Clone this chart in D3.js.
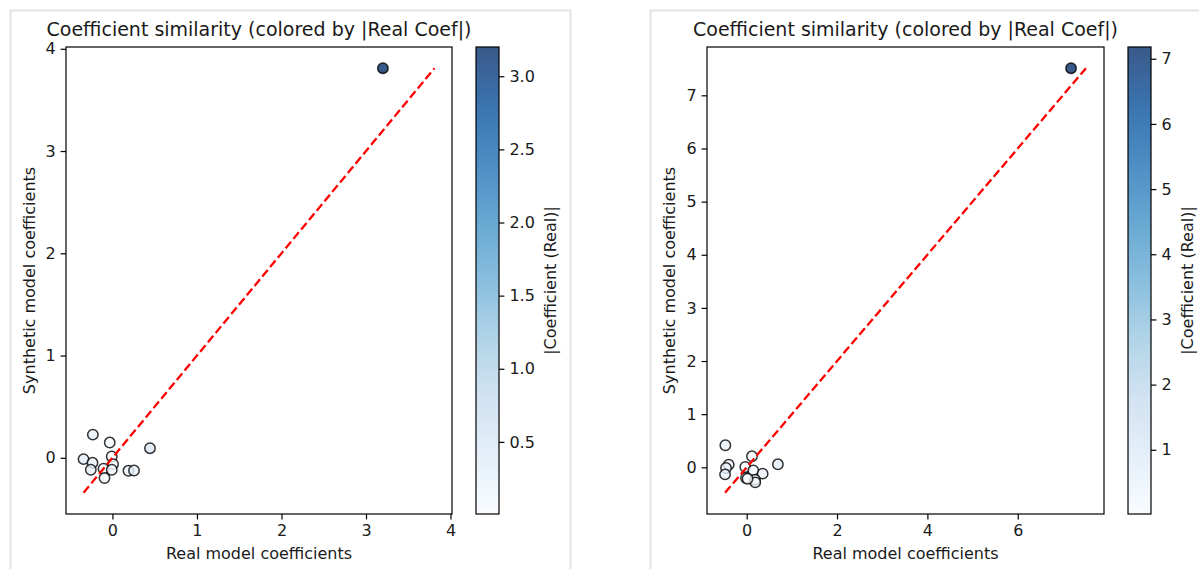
<!DOCTYPE html>
<html>
<head>
<meta charset="utf-8">
<script src="https://cdn.jsdelivr.net/npm/d3@7"></script>
<style>
  body { margin: 0; background: #fff; }
  text { font-family: "DejaVu Sans", sans-serif; fill: #1a1a1a; }
</style>
</head>
<body>
<script>

// values
var leftReal  = [3.20, -0.232, -0.032, 0.444, -0.008, -0.342, -0.236, 0.007, -0.256, -0.106, -0.008, 0.189, 0.255, -0.094];
var leftSynth = [3.81, 0.227, 0.149, 0.094, 0.013, -0.013, -0.049, -0.062, -0.117, -0.107, -0.117, -0.127, -0.124, -0.198];
var leftTicks = [0, 1, 2, 3, 4];
var leftCbarTicks = [0.5, 1.0, 1.5, 2.0, 2.5, 3.0];

var rightReal  = [7.18, -0.472, 0.117, 0.691, -0.397, -0.457, -0.031, 0.146, 0.353, -0.479, -0.015, 0.183, 0.19, 0.02];
var rightSynth = [7.51, 0.415, 0.207, 0.057, 0.05, -0.013, 0.006, -0.057, -0.119, -0.132, -0.201, -0.233, -0.283, -0.215];
var rightXTicks = [0, 2, 4, 6];
var rightYTicks = [0, 1, 2, 3, 4, 5, 6, 7];
var rightCbarTicks = [1, 2, 3, 4, 5, 6, 7];

var titleText = "Coefficient similarity (colored by |Real Coef|)";

var width = 1199, height = 569;
var fontSize = "16px", titleSize = "19px";

var svg = d3.select("body").append("svg")
    .attr("width", width)
    .attr("height", height);

var defs = svg.append("defs");

// matplotlib "Blues" is a linear ramp through the 9 colorbrewer colours
var blues = d3.piecewise(d3.interpolateRgb, d3.schemeBlues[9]);

function fmt(v, dec) { return v < 0 ? "\u2212" + Math.abs(v).toFixed(dec) : v.toFixed(dec); }

function style_axis(a) {
    a.select(".domain").remove();
    a.selectAll("line").attr("stroke", "#000").attr("stroke-width", 1.2);
    a.selectAll("text").attr("font-size", fontSize).attr("fill", "#1a1a1a")
        .style("font-family", "DejaVu Sans, sans-serif");
}

function draw_panel(opt) {
    var real = opt.real, synth = opt.synth;

    // frame around each output
    svg.append("rect")
        .attr("x", opt.frameX + 0.5).attr("y", 10.5)
        .attr("width", opt.frameW).attr("height", 600)
        .attr("fill", "none")
        .attr("stroke", "#e3e3e3")
        .attr("stroke-width", 2);

    var lo = Math.min(d3.min(real), d3.min(synth)),
        hi = Math.max(d3.max(real), d3.max(synth));
    var pad = (hi - lo) * 0.05;

    var x = d3.scaleLinear().domain([lo - pad, hi + pad]).range([opt.left, opt.right]);
    var y = d3.scaleLinear().domain([lo - pad, hi + pad]).range([opt.bottom, opt.top]);

    var absVals = real.map(Math.abs);
    var color = d3.scaleSequential(blues).domain([d3.min(absVals), d3.max(absVals)]);

    var g = svg.append("g");

    var pts = real.map(function(d, i) { return {r: d, s: synth[i]}; });

    g.selectAll("circle.pt")
        .data(pts)
        .enter().append("circle")
        .attr("class", "pt")
        .attr("cx", function(d) { return x(d.r); })
        .attr("cy", function(d) { return y(d.s); })
        .attr("r", 5.2)
        .attr("fill", function(d) { return color(Math.abs(d.r)); })
        .attr("fill-opacity", 0.8)
        .attr("stroke", "#000")
        .attr("stroke-opacity", 0.8)
        .attr("stroke-width", 1.5);

    // y = x reference
    g.append("line")
        .attr("x1", x(lo)).attr("y1", y(lo))
        .attr("x2", x(hi)).attr("y2", y(hi))
        .attr("stroke", "red")
        .attr("stroke-width", 2.3)
        .attr("stroke-dasharray", "8.5,3.7");

    var xAxis = d3.axisBottom(x).tickValues(opt.xTicks).tickSize(5.4).tickPadding(5)
        .tickFormat(function(d) { return fmt(d, 0); });
    var yAxis = d3.axisLeft(y).tickValues(opt.yTicks).tickSize(5.4).tickPadding(5)
        .tickFormat(function(d) { return fmt(d, 0); });

    var gx = g.append("g").attr("transform", "translate(0," + opt.bottom + ")").call(xAxis);
    var gy = g.append("g").attr("transform", "translate(" + opt.left + ",0)").call(yAxis);
    style_axis(gx);
    style_axis(gy);

    g.append("rect")
        .attr("x", opt.left).attr("y", opt.top)
        .attr("width", opt.right - opt.left).attr("height", opt.bottom - opt.top)
        .attr("fill", "none").attr("stroke", "#000").attr("stroke-width", 1.2);

    g.append("text")
        .attr("x", (opt.left + opt.right) / 2).attr("y", 36)
        .attr("text-anchor", "middle")
        .attr("font-size", titleSize)
        .text(titleText);

    g.append("text")
        .attr("x", (opt.left + opt.right) / 2).attr("y", 553)
        .attr("dy", "0.35em")
        .attr("text-anchor", "middle")
        .attr("font-size", fontSize)
        .text("Real model coefficients");

    g.append("text")
        .attr("transform", "translate(" + opt.ylabX + "," + (opt.top + opt.bottom) / 2 + ") rotate(-90)")
        .attr("dy", "0.35em")
        .attr("text-anchor", "middle")
        .attr("font-size", fontSize)
        .text("Synthetic model coefficients");

    // colorbar
    var gid = "grad_" + opt.id;
    var grad = defs.append("linearGradient")
        .attr("id", gid)
        .attr("x1", "0%").attr("x2", "0%")
        .attr("y1", "100%").attr("y2", "0%");
    grad.selectAll("stop")
        .data(d3.range(0, 1.0001, 0.05))
        .enter().append("stop")
        .attr("offset", function(d) { return d; })
        .attr("stop-color", function(d) { return blues(d); })
        .attr("stop-opacity", 0.8);

    var cScale = d3.scaleLinear().domain(color.domain()).range([opt.bottom, opt.top]);

    g.append("rect")
        .attr("x", opt.cbLeft).attr("y", opt.top)
        .attr("width", opt.cbW).attr("height", opt.bottom - opt.top)
        .attr("fill", "url(#" + gid + ")")
        .attr("stroke", "#000").attr("stroke-width", 1.2);

    var cAxis = d3.axisRight(cScale).tickValues(opt.cTicks).tickSize(5.4).tickPadding(5)
        .tickFormat(function(d) { return fmt(d, opt.cDec); });
    var gc = g.append("g").attr("transform", "translate(" + (opt.cbLeft + opt.cbW) + ",0)").call(cAxis);
    style_axis(gc);

    g.append("text")
        .attr("transform", "translate(" + opt.cLabX + "," + (opt.top + opt.bottom) / 2 + ") rotate(-90)")
        .attr("dy", "0.35em")
        .attr("text-anchor", "middle")
        .attr("font-size", fontSize)
        .text("|Coefficient (Real)|");
}

draw_panel({
    id: "left", real: leftReal, synth: leftSynth,
    frameX: 10, frameW: 560,
    left: 66, right: 452, top: 47, bottom: 514,
    xTicks: leftTicks, yTicks: leftTicks,
    cbLeft: 476, cbW: 23, cTicks: leftCbarTicks, cDec: 1,
    ylabX: 29, cLabX: 550
});

draw_panel({
    id: "right", real: rightReal, synth: rightSynth,
    frameX: 650, frameW: 600,
    left: 707, right: 1104, top: 47, bottom: 514,
    xTicks: rightXTicks, yTicks: rightYTicks,
    cbLeft: 1128, cbW: 23, cTicks: rightCbarTicks, cDec: 0,
    ylabX: 669, cLabX: 1187
});

</script>
</body>
</html>
